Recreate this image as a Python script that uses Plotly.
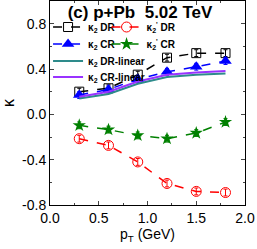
import plotly.graph_objects as go

pt = [0.3, 0.6, 0.9, 1.2, 1.5, 1.8]
k2_dr = [0.20, 0.23, 0.35, 0.50, 0.54, 0.54]
k2_cr = [0.17, 0.22, 0.31, 0.375, 0.42, 0.47]
k2_dr_lin = [0.14, 0.18, 0.27, 0.33, 0.35, 0.36]
k2_cr_lin = [0.155, 0.20, 0.29, 0.35, 0.37, 0.383]
k2p_dr = [-0.215, -0.274, -0.42, -0.61, -0.68, -0.69]
k2p_cr = [-0.097, -0.135, -0.186, -0.215, -0.165, -0.068]
err = [0.03] * 6

xticks = [0.0, 0.5, 1.0, 1.5, 2.0]
yticks = [-0.8, -0.4, 0.0, 0.4, 0.8]

fig = go.Figure()

def eb(color):
    return dict(type="data", array=err, visible=True, color=color, thickness=1, width=2)

fig.add_trace(go.Scatter(x=pt, y=k2_dr, name="<b>κ<sub>2</sub> DR</b>", mode="lines+markers",
    line=dict(color="black", dash="dash", width=1.5),
    marker=dict(symbol="square-open", size=9, color="black", line=dict(width=1)),
    error_y=eb("black"), legend="legend"))
fig.add_trace(go.Scatter(x=pt, y=k2_cr, name="<b>κ<sub>2</sub> CR</b>", mode="lines+markers",
    line=dict(color="blue", dash="dash", width=1.5),
    marker=dict(symbol="triangle-up", size=11, color="blue"),
    error_y=eb("blue"), legend="legend2"))
fig.add_trace(go.Scatter(x=pt, y=k2_dr_lin, name="<b>κ<sub>2</sub> DR-linear</b>", mode="lines",
    line=dict(color="#2e8b8b", width=2), legend="legend3"))
fig.add_trace(go.Scatter(x=pt, y=k2_cr_lin, name="<b>κ<sub>2</sub> CR-linear</b>", mode="lines",
    line=dict(color="#9933ff", width=2), legend="legend4"))
fig.add_trace(go.Scatter(x=pt, y=k2p_dr, name="<b>κ<sub>2</sub><sup>'</sup> DR</b>", mode="lines+markers",
    line=dict(color="red", dash="dash", width=1.5),
    marker=dict(symbol="circle-open", size=10, color="red", line=dict(width=1)),
    error_y=eb("red"), legend="legend5"))
fig.add_trace(go.Scatter(x=pt, y=k2p_cr, name="<b>κ<sub>2</sub><sup>'</sup> CR</b>", mode="lines+markers",
    line=dict(color="green", dash="dash", width=1.5),
    marker=dict(symbol="star", size=10, color="green"),
    error_y=eb("green"), legend="legend6"))

legfont = dict(family="Liberation Sans, Arial", size=10, color="black")

def leg(x, y):
    return dict(x=x, y=y, xanchor="left", yanchor="middle", bgcolor="rgba(0,0,0,0)",
                font=legfont, tracegroupgap=0, itemwidth=30)

fig.update_layout(
    width=257, height=249,
    margin=dict(l=50, r=12, t=1, b=44, autoexpand=False),
    plot_bgcolor="white", paper_bgcolor="white",
    font=dict(family="Liberation Sans, Arial", size=14, color="black"),
    title=dict(text="<b>(c) p+Pb &nbsp;5.02 TeV</b>", x=0.545, xanchor="center",
               y=0.952, yanchor="middle", font=dict(size=17)),
    legend=leg(-0.01, 0.8725),
    legend2=leg(-0.01, 0.789),
    legend3=leg(-0.01, 0.706),
    legend4=leg(-0.01, 0.627),
    legend5=leg(0.29, 0.8725),
    legend6=leg(0.29, 0.789),
    showlegend=True,
)
fig.update_xaxes(range=[0, 2.0], tickvals=xticks, ticktext=["0.0", "0.5", "1.0", "1.5", "2.0"],
    ticks="inside", ticklen=4, automargin=False,
    showline=True, linecolor="black", linewidth=1, mirror="ticks", showgrid=False, zeroline=False,
    minor=dict(dtick=0.25, ticks="inside", ticklen=2, tick0=0),
    title=dict(text="p<sub>T</sub> (GeV)", standoff=0, font=dict(size=14)))
fig.update_yaxes(range=[-0.8, 1.0], tickvals=yticks, ticktext=["-0.8", "-0.4", "0.0", "0.4", "0.8"],
    ticks="inside", ticklen=4, automargin=False,
    showline=True, linecolor="black", linewidth=1, mirror="ticks", showgrid=False, zeroline=False,
    minor=dict(dtick=0.2, ticks="inside", ticklen=2, tick0=0),
    title=dict(text="κ", standoff=4, font=dict(size=16)))

fig.write_html("out.html", config={"displayModeBar": False},
               post_script="document.body.style.margin='0';document.body.style.overflow='hidden';")
